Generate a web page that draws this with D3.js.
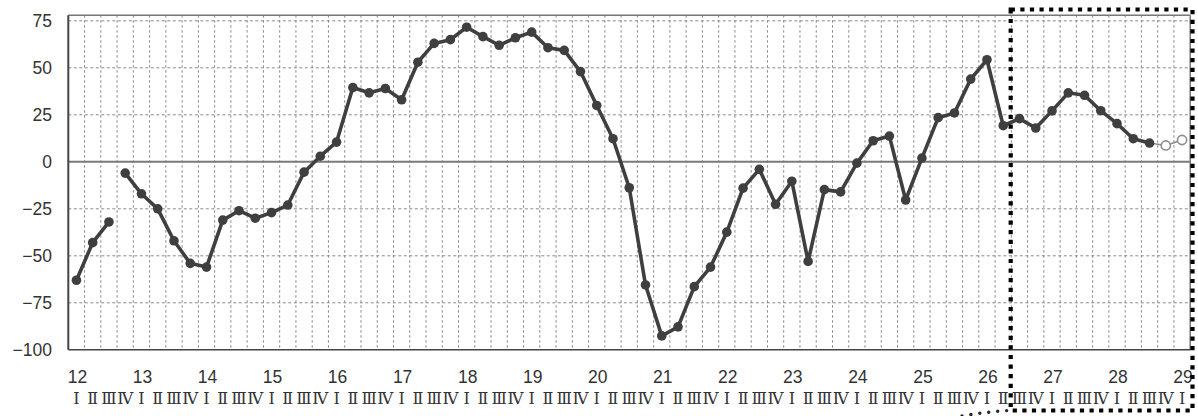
<!DOCTYPE html>
<html>
<head>
<meta charset="utf-8">
<script src="https://cdn.jsdelivr.net/npm/d3@7"></script>
<style>
  html, body { margin: 0; padding: 0; background: #fff; }
  svg { display: block; }
</style>
</head>
<body>
<svg id="chart" width="1198" height="416"></svg>
<script>
// ---- data ----
const years = ["12","13","14","15","16","17","18","19","20","21","22","23","24","25","26","27","28","29"];
const quarterLabels = ["Ⅰ","Ⅱ","Ⅲ","Ⅳ"];
// actual values, 12 Q1 .. 28 Q3
const actual = [
  -63, -43, -32,
  -6, -17, -25, -42, -54, -56, -31, -26, -30, -27, -23,
  -5.5, 3, 10.5, 39.5, 36.7, 39, 33, 53, 63, 65, 71.6, 66.6, 62, 66,
  69, 60.7, 59.3, 48, 30, 12.3, -13.8, -65.5, -92.6, -87.8, -66.4, -56, -37.4, -14,
  -4, -22.6, -10.3, -53, -14.8, -16, -0.7, 11.2, 13.7, -20.3, 2, 23.5, 26, 44,
  54.3, 19.2, 23, 18, 27.1, 36.7, 35.4, 27.2, 20.3, 12.3, 10
];
// forecast values, 28 Q4 .. 29 Q1
const forecast = [8.7, 11.6];
const breakAfter = 2; // line is broken between 12 Q3 and 12 Q4
const yTicks = [-100, -75, -50, -25, 0, 25, 50, 75];

// categories
const categories = [];
years.forEach((yr, i) => {
  quarterLabels.forEach((q, j) => {
    if (i < years.length - 1 || j === 0) categories.push({ year: yr, q: q, qi: j, key: yr + "-" + j });
  });
});

// ---- layout ----
const svg = d3.select("#chart");
const pLeft = 68.3, pRight = 1190.2, pTop = 15.2, pBottom = 349.8;

const x = d3.scaleBand().domain(categories.map(d => d.key)).range([pLeft, pRight]).padding(0);
const y = d3.scaleLinear().domain([-100, 78]).range([pBottom, pTop]);
const cx = i => x(categories[i].key) + x.bandwidth() / 2;

const g = svg.append("g");

// vertical gridlines (category boundaries)
g.append("g").selectAll("line")
  .data(categories.slice(1))
  .join("line")
  .attr("x1", d => x(d.key)).attr("x2", d => x(d.key))
  .attr("y1", pTop).attr("y2", pBottom)
  .attr("stroke", "#8a8a8a").attr("stroke-width", 1)
  .attr("stroke-dasharray", "2.5,2.5");

// horizontal gridlines
g.append("g").selectAll("line")
  .data(yTicks.filter(v => v !== 0 && v !== -100))
  .join("line")
  .attr("x1", pLeft).attr("x2", pRight)
  .attr("y1", d => y(d)).attr("y2", d => y(d))
  .attr("stroke", "#8a8a8a").attr("stroke-width", 1)
  .attr("stroke-dasharray", "3,2.5");

// frame
g.append("line").attr("x1", pLeft).attr("x2", pRight).attr("y1", pTop).attr("y2", pTop)
  .attr("stroke", "#777").attr("stroke-width", 1.5);
g.append("line").attr("x1", pRight).attr("x2", pRight).attr("y1", pTop).attr("y2", pBottom)
  .attr("stroke", "#777").attr("stroke-width", 1.5);
g.append("line").attr("x1", pLeft).attr("x2", pRight).attr("y1", y(-100)).attr("y2", y(-100))
  .attr("stroke", "#444").attr("stroke-width", 1.5);
g.append("line").attr("x1", pLeft).attr("x2", pRight).attr("y1", y(0)).attr("y2", y(0))
  .attr("stroke", "#7a7a7a").attr("stroke-width", 2);
g.append("line").attr("x1", pLeft).attr("x2", pLeft).attr("y1", pTop).attr("y2", pBottom)
  .attr("stroke", "#444").attr("stroke-width", 2);

// y axis labels
const yAxis = d3.axisLeft(y).tickValues(yTicks).tickSize(0).tickPadding(0)
  .tickFormat(d => d < 0 ? "\u2212" + Math.abs(d) : String(d));
const ya = svg.append("g").attr("transform", "translate(52,0)").call(yAxis);
ya.select(".domain").remove();
ya.selectAll("text").attr("font-family", "Liberation Sans, Arial, sans-serif")
  .attr("font-size", 17.5).attr("fill", "#333");

// x labels: years
svg.append("g").selectAll("text")
  .data(categories.filter(d => d.qi === 0))
  .join("text")
  .attr("x", d => x(d.key) + x.bandwidth() / 2 + 1)
  .attr("y", 382.5)
  .attr("text-anchor", "middle")
  .attr("font-family", "Liberation Sans, Arial, sans-serif")
  .attr("font-size", 17.5).attr("fill", "#333")
  .text(d => d.year);

// x labels: quarters
svg.append("g").selectAll("text")
  .data(categories)
  .join("text")
  .attr("x", d => x(d.key) + x.bandwidth() / 2)
  .attr("y", 404)
  .attr("text-anchor", "middle")
  .attr("font-family", "DejaVu Serif, serif")
  .attr("font-size", 16).attr("fill", "#333")
  .text(d => d.q);

// lines
const line = d3.line().x(d => cx(d.i)).y(d => y(d.v));
const pts = actual.map((v, i) => ({ i, v }));
const fpts = forecast.map((v, k) => ({ i: actual.length + k, v }));

g.append("path").datum([pts[actual.length - 1], ...fpts]).attr("d", line)
  .attr("fill", "none").attr("stroke", "#8c8c8c").attr("stroke-width", 1.6);

[pts.slice(0, breakAfter + 1), pts.slice(breakAfter + 1)].forEach(seg => {
  g.append("path").datum(seg).attr("d", line)
    .attr("fill", "none").attr("stroke", "#3f3f3f").attr("stroke-width", 3.6)
    .attr("stroke-linejoin", "round");
});

g.append("g").selectAll("circle").data(pts).join("circle")
  .attr("cx", d => cx(d.i)).attr("cy", d => y(d.v)).attr("r", 4.8)
  .attr("fill", "#3f3f3f");

g.append("g").selectAll("circle").data(fpts).join("circle")
  .attr("cx", d => cx(d.i)).attr("cy", d => y(d.v)).attr("r", 4.6)
  .attr("fill", "#fff").attr("stroke", "#8c8c8c").attr("stroke-width", 1.6);

// highlight box (dotted)
const bx1 = pRight + 2.3;
svg.append("rect")
  .attr("x", 1010.7).attr("y", 9.5)
  .attr("width", bx1 - 1010.7).attr("height", 401)
  .attr("fill", "none").attr("stroke", "#000").attr("stroke-width", 4.2)
  .attr("stroke-dasharray", "4.2,5.4");

// small dotted callout fragment
svg.append("path")
  .attr("d", "M962,416 Q985,412 1008,410.5")
  .attr("fill", "none").attr("stroke", "#222").attr("stroke-width", 3.4)
  .attr("stroke-linecap", "round").attr("stroke-dasharray", "0,9");
</script>
</body>
</html>
